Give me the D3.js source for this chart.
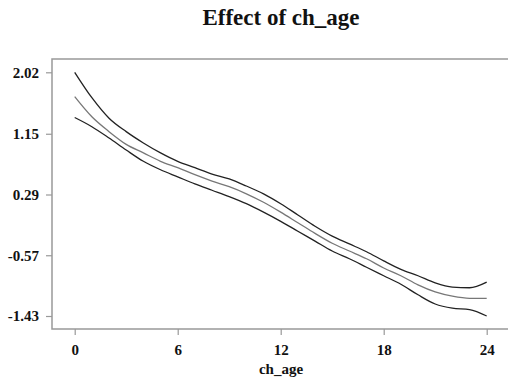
<!DOCTYPE html>
<html><head><meta charset="utf-8">
<script src="https://cdn.jsdelivr.net/npm/d3@7"></script>
<style>body{margin:0;background:#fff}svg{display:block}</style>
</head><body>
<svg id="c" width="508" height="387"></svg>
<script>
const ages = d3.range(0, 25);
const upper = [2.02,1.66,1.37,1.18,1.02,0.88,0.76,0.67,0.58,0.51,0.41,0.30,0.16,0.00,-0.16,-0.30,-0.41,-0.52,-0.65,-0.77,-0.86,-0.96,-1.02,-1.03,-0.95];
const middle = [1.675,1.39,1.18,1.00,0.88,0.76,0.67,0.57,0.48,0.40,0.30,0.18,0.04,-0.11,-0.26,-0.40,-0.51,-0.62,-0.75,-0.86,-0.99,-1.09,-1.15,-1.18,-1.18];
const lower = [1.38,1.25,1.09,0.92,0.76,0.64,0.54,0.44,0.35,0.26,0.16,0.04,-0.09,-0.23,-0.37,-0.51,-0.62,-0.74,-0.86,-0.98,-1.13,-1.26,-1.32,-1.34,-1.43];
const yTicks = [2.02,1.15,0.29,-0.57,-1.43];
const xTicks = [0,6,12,18,24];

const svg = d3.select("#c");
const x = d3.scaleLinear().domain([0,24]).range([74.7,486.7]);
const y = d3.scaleLinear().domain([-1.43,2.02]).range([316,72.3]);
const frameL = 52, frameT = 59, frameB = 329, frameR = 508;
const axisCol = "#999";
const font = "'Liberation Serif','Times New Roman',serif";

svg.append("text").attr("x",281).attr("y",25).attr("text-anchor","middle")
  .attr("font-family",font).attr("font-weight","bold").attr("font-size",23).attr("fill","#111")
  .text("Effect of ch_age");

// frame
svg.append("path").attr("d",`M${frameR},${frameT}H${frameL}V${frameB}H${frameR}`)
  .attr("fill","none").attr("stroke",axisCol).attr("stroke-width",1.5);

// y axis
const yAxis = svg.append("g").attr("transform",`translate(${frameL},0)`)
  .call(d3.axisLeft(y).tickValues(yTicks).tickFormat(d => d.toFixed(2)).tickSize(6).tickPadding(7));
yAxis.select(".domain").remove();
yAxis.selectAll("line").attr("stroke",axisCol).attr("stroke-width",1.2);
yAxis.selectAll("text").attr("font-family",font).attr("font-weight","bold").attr("font-size",15).attr("fill","#111");

// x axis
const xAxis = svg.append("g").attr("transform",`translate(0,${frameB})`)
  .call(d3.axisBottom(x).tickValues(xTicks).tickFormat(d => String(d)).tickSize(6).tickPadding(9));
xAxis.select(".domain").remove();
xAxis.selectAll("line").attr("stroke",axisCol).attr("stroke-width",1.2);
xAxis.selectAll("text").attr("font-family",font).attr("font-weight","bold").attr("font-size",15).attr("fill","#111");

svg.append("text").attr("x",281).attr("y",374).attr("text-anchor","middle")
  .attr("font-family",font).attr("font-weight","bold").attr("font-size",15).attr("fill","#111")
  .text("ch_age");

const line = d3.line().x((d,i)=>x(ages[i])).y(d=>y(d)).curve(d3.curveMonotoneX);
[[upper,"#222"],[middle,"#777"],[lower,"#222"]].forEach(([s,c])=>{
  svg.append("path").attr("d",line(s)).attr("fill","none").attr("stroke",c).attr("stroke-width",1.3);
});
</script>
</body></html>
